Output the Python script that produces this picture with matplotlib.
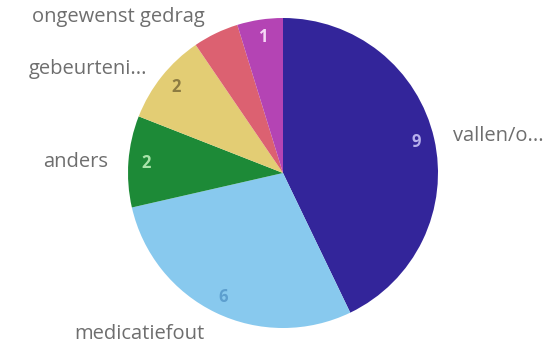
import numpy as np
import matplotlib.pyplot as plt

# incident counts per category, clockwise from 12 o'clock
categories = ['vallen/o...', 'medicatiefout', 'anders', 'gebeurteni...', 'ongewenst gedrag', '']
counts = [9, 6, 2, 2, 1, 1]
shown_values = ['9', '6', '2', '2', '', '1']

colors = ['#33259a', '#88c9ee', '#1d8a37', '#e3cd74', '#dc6171', '#b444b4']
value_colors = ['#b7b0ec', '#5d9fcf', '#a9e3a9', '#8d7c42', '#ffffff', '#f6d8f6']

W, H = 549, 344
fig = plt.figure(figsize=(W / 100, H / 100), dpi=100)
ax = fig.add_axes([0, 0, 1, 1])

# work in pixel units so the layout is easy to place
cx, cy, r = 283, H - 173, 155
ax.pie(counts, colors=colors, startangle=90, counterclock=False,
       center=(cx, cy), radius=r, wedgeprops=dict(linewidth=0))
ax.set_xlim(0, W)
ax.set_ylim(0, H)
ax.set_aspect('equal')
ax.axis('off')

# value labels inside the wedges
total = sum(counts)
start = 90.0
for n, txt, c in zip(counts, shown_values, value_colors):
    sweep = 360.0 * n / total
    mid = np.deg2rad(start - sweep / 2)
    start -= sweep
    if txt:
        ax.text(cx + 0.885 * r * np.cos(mid), cy + 0.885 * r * np.sin(mid), txt,
                color=c, fontsize=12, ha='center', va='center',
                family='Open Sans', fontweight='bold')

# category labels around the pie: (x, baseline y from top, alignment)
label_pos = {
    'vallen/o...': (453, 141, 'left'),
    'medicatiefout': (205, 339, 'right'),
    'anders': (108, 167, 'right'),
    'gebeurteni...': (147, 74, 'right'),
    'ongewenst gedrag': (205, 22, 'right'),
}
for name, (px, py, ha) in label_pos.items():
    ax.text(px, H - py, name, ha=ha, va='baseline', fontsize=14.5,
            color='#6e6e6e', family='Open Sans')

fig.savefig('out.png', dpi=100)
